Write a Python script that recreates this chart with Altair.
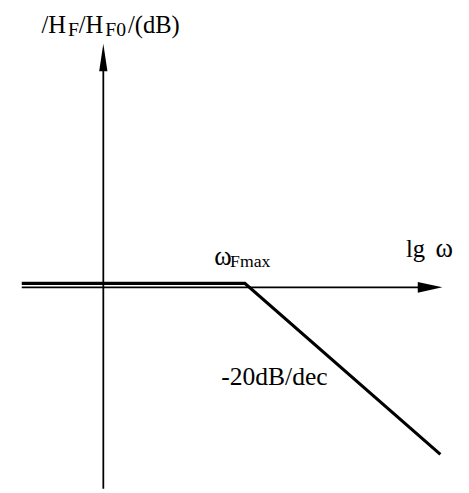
import altair as alt
import pandas as pd

# Schematic Bode magnitude sketch; origin = axis crossing.
# x: lg ω (drawing units), y: |H_F/H_F0| in dB (drawing units)
resp_x = [-83, 144, 343]
resp_y = [4, 4, -170]

haxis_x = [-83, 325]
haxis_y = [0, 0]
vaxis_x = [0, 0]
vaxis_y = [222, -205]

arrow_x = [332.5, 0]
arrow_y = [0, 234]

labels = ["/H", "F", "/H", "F0", "/(dB)", "ω", "Fmax", "lg", "ω", "-20dB/dec"]
label_x = [-63, -36, -25, 2, 25, 113, 129, 308, 338, 120]
label_y = [259, 256, 259, 256, 259, 23, 21, 31, 31, -99]
label_size = [25, 20, 25, 20, 25, 27, 18, 25, 27, 26]

xs = alt.Scale(domain=[-97, 356], zero=False, nice=False)
ys = alt.Scale(domain=[-197, 280], zero=False, nice=False)

def X(f="x"):
    return alt.X(f"{f}:Q", scale=xs, axis=None)

def Y(f="y"):
    return alt.Y(f"{f}:Q", scale=ys, axis=None)

resp = alt.Chart(pd.DataFrame({"x": resp_x, "y": resp_y, "o": range(3)})).mark_line(
    color="black", strokeWidth=3.2, strokeJoin="miter", strokeCap="butt"
).encode(x=X(), y=Y(), order="o:O")

hax = alt.Chart(pd.DataFrame({"x": haxis_x, "y": haxis_y})).mark_line(
    color="black", strokeWidth=1.6, strokeCap="butt"
).encode(x=X(), y=Y())

vax = alt.Chart(pd.DataFrame({"x": vaxis_x, "y": vaxis_y})).mark_line(
    color="black", strokeWidth=1.8, strokeCap="butt"
).encode(x=X(), y=Y())

harrow = alt.Chart(pd.DataFrame({"x": arrow_x[:1], "y": arrow_y[:1]})).mark_point(
    shape="M-1,-0.44L1,0L-1,0.44Z", size=625, filled=True, color="black", opacity=1
).encode(x=X(), y=Y())

varrow = alt.Chart(pd.DataFrame({"x": arrow_x[1:], "y": arrow_y[1:]})).mark_point(
    shape="M-0.3,1L0,-1L0.3,1Z", size=784, filled=True, color="black", opacity=1
).encode(x=X(), y=Y())

text = alt.Chart(pd.DataFrame({"t": labels, "x": label_x, "y": label_y, "fs": label_size})).mark_text(
    font="serif", align="left", baseline="alphabetic", color="black"
).encode(x=X(), y=Y(), text="t:N", size=alt.Size("fs:Q", scale=None, legend=None))

chart = alt.layer(hax, vax, resp, harrow, varrow, text).properties(
    width=453, height=477,
    autosize=alt.AutoSizeParams(type="none"),
    padding={"left": 0, "top": 0, "right": 8, "bottom": 8},
).configure_view(stroke=None)

chart.save("out.html", embed_options={"renderer": "svg", "actions": False})
